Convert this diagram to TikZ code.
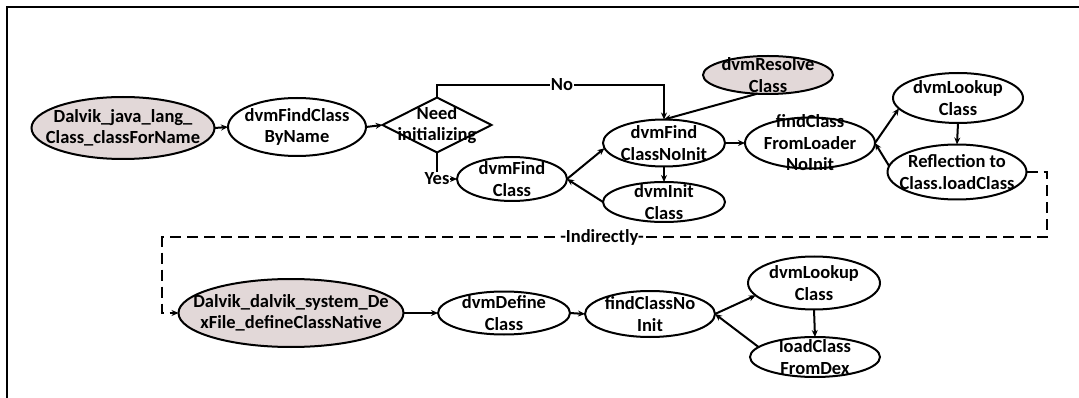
\documentclass[tikz,border=0pt]{standalone}
\usepackage{fontspec}
\setmainfont{Carlito}
\usetikzlibrary{shapes.geometric,arrows.meta}
\definecolor{shade}{RGB}{226,216,216}
% ellipse with centred text: [style]{name}{x}{y}{width}{height}{text}
\newcommand\ovn[7][ov]{%
  \node[#1,minimum width=#5pt,minimum height=#6pt] (#2) at (#3,#4) {};
  \node[txt] (#2-t) at (#2) {#7};}
\begin{document}
\begin{tikzpicture}[x=1pt,y=-1pt,
  every node/.style={font=\bfseries\fontsize{18.5}{21.5}\selectfont},
  ov/.style={ellipse,draw,line width=2pt,inner sep=0pt,outer sep=0pt},
  sh/.style={ov,fill=shade},
  txt/.style={align=center,inner sep=0pt},
  dec/.style={diamond,draw,line width=2pt,inner sep=0pt,outer sep=0pt},
  arr/.style={line width=2pt,-{Stealth[length=7pt,width=6pt]}},
  dsh/.style={arr,dash pattern=on 11pt off 6pt},
  lbl/.style={fill=white,inner sep=1pt}]
\useasboundingbox (0,0) rectangle (1079,398);
% frame
\draw[line width=2pt] (7,398) -- (7,7) -- (1079,7);

% upper chain
\ovn[sh]{jcn}{123}{128}{183}{62}{Dalvik\_java\_lang\_\\Class\_classForName}
\ovn{fcbn}{297}{127}{138}{58}{dvmFindClass\\ByName}
\node[dec,minimum width=109pt,minimum height=55pt] (need) at (437,125) {};
\node[txt] (need-t) at (need) {Need\\initializing};
\ovn{fc}{512}{179}{110}{44}{dvmFind\\Class}
\ovn{ni}{664}{143}{122}{47}{dvmFind\\ClassNoInit}
\ovn{ii}{664}{202}{122}{40}{dvmInit\\Class}
\ovn[sh]{rc}{768}{75}{130}{38}{dvmResolve\\Class}
\ovn{fl}{810}{143}{130}{51}{findClass\\FromLoader\\NoInit}
\ovn{lk1}{958}{98}{130}{50}{dvmLookup\\Class}
\ovn{refl}{957}{172}{139}{55}{Reflection to\\Class.loadClass}

% lower chain
\ovn[sh]{dd}{291}{313}{225}{68}{Dalvik\_dalvik\_system\_De\\xFile\_defineClassNative}
\ovn{dc}{504}{313}{132}{43}{dvmDefine\\Class}
\ovn{fcn}{650}{314}{130}{46}{findClassNo\\Init}
\ovn{lk2}{814}{283}{132}{53}{dvmLookup\\Class}
\ovn{ld}{815}{357}{130}{40}{loadClass\\FromDex}

% connectors, upper
\draw[arr] (jcn.east) -- (fcbn.west);
\draw[arr] (fcbn.east) -- (need.west);
\coordinate (notop) at (664,85);
\draw[arr] (need.north) |- (notop) -- (ni.north);
\node[lbl] (nolbl) at (562,85) {No};
\draw[arr] (need.south) |- node[lbl,pos=0.5] (yeslbl) {Yes} (fc.west);
\draw[arr] (rc.240) -- (ni.north);
\draw[arr] (fc.east) -- (ni.185);
\draw[arr] (ii.west) -- (fc.east);
\draw[arr] (ni.south) -- (ii.north);
\draw[arr] (ni.east) -- (fl.west);
\draw[arr] (fl.east) -- (lk1.190);
\draw[arr] (refl.175) -- (fl.east);
\draw[arr] (lk1.south) -- (refl.north);

% indirect hand-over
\coordinate (d1) at (1047,172);
\coordinate (d2) at (162,237);
\draw[dsh] (refl.east) -- (d1) |- (d2) |- (dd.west);
\node[lbl] (indlbl) at (602,237) {-Indirectly-};

% connectors, lower
\draw[arr] (dd.east) -- (dc.west);
\draw[arr] (dc.east) -- (fcn.west);
\draw[arr] (fcn.east) -- (lk2.192);
\draw[arr] (ld.170) -- (fcn.east);
\draw[arr] (lk2.south) -- (ld.north);
\end{tikzpicture}
\end{document}
